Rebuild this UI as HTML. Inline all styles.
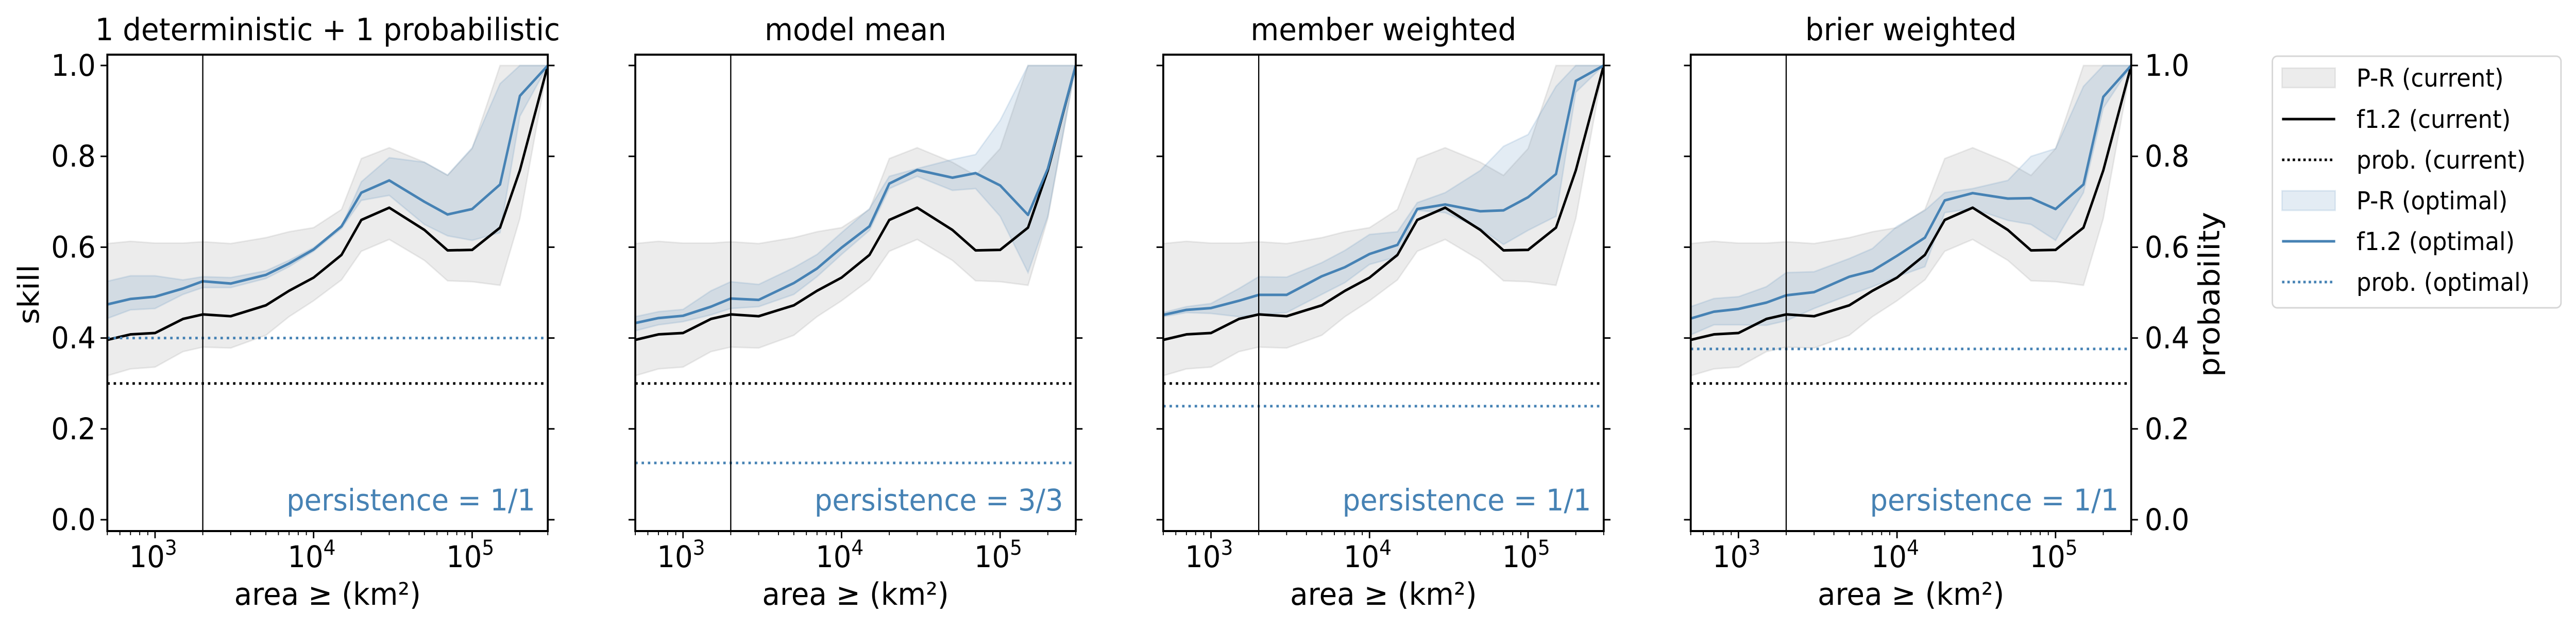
<!DOCTYPE html>
<html><head><meta charset="utf-8"><style>
html,body{margin:0;padding:0;background:#fff;width:100%;height:100%;overflow:hidden;}
svg{display:block;width:100vw;height:100vh;font-family:"DejaVu Sans","Liberation Sans",sans-serif;}
</style></head><body>
<svg id="fig" viewBox="0 0 5328 1218" preserveAspectRatio="none" xmlns="http://www.w3.org/2000/svg"></svg>
<script>
const areas=[500,700,1000,1500,2000,3000,5000,7000,10000,15000,20000,30000,50000,70000,100000,150000,200000,300000];
const f12Current=[0.396,0.408,0.411,0.442,0.452,0.448,0.472,0.504,0.533,0.583,0.660,0.687,0.638,0.593,0.594,0.643,0.769,1.0];
const prCurrentUpper=[0.608,0.613,0.609,0.609,0.612,0.608,0.621,0.634,0.643,0.683,0.795,0.819,0.787,0.758,0.817,1.0,1.0,1.0];
const prCurrentLower=[0.317,0.332,0.336,0.370,0.380,0.378,0.406,0.447,0.482,0.528,0.591,0.617,0.571,0.526,0.524,0.516,0.663,1.0];
const probCurrent=0.30;
const titles=["1 deterministic + 1 probabilistic","model mean","member weighted","brier weighted"];
const persistence=["1/1","3/3","1/1","1/1"];
const probOptimal=[0.40,0.125,0.25,0.376];
const f12Optimal=[
[0.474,0.486,0.491,0.509,0.525,0.520,0.539,0.564,0.595,0.646,0.720,0.747,0.700,0.672,0.684,0.738,0.933,1.0],
[0.433,0.444,0.449,0.469,0.487,0.484,0.521,0.553,0.599,0.646,0.740,0.770,0.753,0.763,0.736,0.671,0.773,1.0],
[0.451,0.462,0.466,0.482,0.495,0.495,0.536,0.556,0.585,0.605,0.684,0.694,0.679,0.681,0.710,0.761,0.966,1.0],
[0.443,0.458,0.464,0.478,0.494,0.501,0.535,0.548,0.581,0.621,0.703,0.719,0.707,0.708,0.684,0.738,0.931,1.0]];
const prOptimalUpper=[
[0.525,0.537,0.537,0.528,0.535,0.533,0.548,0.571,0.599,0.646,0.744,0.797,0.787,0.759,0.819,0.960,1.0,1.0],
[0.447,0.458,0.463,0.504,0.524,0.518,0.555,0.584,0.632,0.685,0.756,0.773,0.793,0.804,0.879,1.0,1.0,1.0],
[0.456,0.469,0.476,0.509,0.535,0.534,0.566,0.593,0.628,0.634,0.698,0.720,0.769,0.822,0.848,0.954,1.0,1.0],
[0.469,0.487,0.491,0.513,0.544,0.546,0.575,0.597,0.646,0.681,0.720,0.729,0.747,0.800,0.817,0.954,1.0,1.0]];
const prOptimalLower=[
[0.443,0.462,0.465,0.496,0.511,0.511,0.531,0.557,0.591,0.641,0.703,0.714,0.650,0.625,0.615,0.632,0.888,1.0],
[0.416,0.429,0.436,0.451,0.465,0.469,0.496,0.535,0.584,0.637,0.729,0.756,0.725,0.729,0.668,0.544,0.668,1.0],
[0.447,0.456,0.454,0.447,0.451,0.456,0.496,0.522,0.562,0.579,0.681,0.676,0.641,0.606,0.637,0.668,0.941,1.0],
[0.407,0.429,0.429,0.428,0.438,0.465,0.495,0.513,0.535,0.557,0.676,0.685,0.659,0.650,0.615,0.720,0.906,1.0]];
const yTicks=[0.0,0.2,0.4,0.6,0.8,1.0];
const yTickLabels=["0.0","0.2","0.4","0.6","0.8","1.0"];
const xMajor=[1000,10000,100000];
const xMajorExp=["3","4","5"];
const refArea=2000;

const NS="http://www.w3.org/2000/svg";
const svg=document.getElementById('fig');
function mk(tag,attrs,parent){const e=document.createElementNS(NS,tag);for(const k in attrs)e.setAttribute(k,attrs[k]);(parent||svg).appendChild(e);return e;}
const panelLeft=[222,1314,2406,3497], PW=911, TOP=106, BOT=1030;
const XMIN=500, XMAX=300000;
const yTop=127, yBot=1008;
function ys(v){return yBot-v*(yBot-yTop);}
const BLUE="#4682b4";

for(let p=0;p<4;p++){
  const L=panelLeft[p];
  const xs=a=>L+(Math.log10(a)-Math.log10(XMIN))/(Math.log10(XMAX)-Math.log10(XMIN))*PW;
  const g=mk('g',{});
  
  
  const clipId='clip'+p;
  const cp=mk('clipPath',{id:clipId},g);mk('rect',{x:L,y:TOP,width:PW,height:BOT-TOP},cp);
  const inner=mk('g',{'clip-path':'url(#'+clipId+')'},g);
  function band(up,lo,fill,name){
    let d='M'+areas.map((a,i)=>xs(a)+','+ys(up[i])).join('L');
    for(let i=areas.length-1;i>=0;i--)d+='L'+xs(areas[i])+','+ys(lo[i]);
    const e=mk('path',{d:d+'Z',fill:fill,stroke:fill,'stroke-width':3},inner);
    
    
  }
  band(prCurrentUpper,prCurrentLower,'rgba(128,128,128,0.15)','pr-band-current');
  band(prOptimalUpper[p],prOptimalLower[p],'rgba(70,130,180,0.15)','pr-band-optimal');
  function line(vals,col,name){
    const e=mk('polyline',{points:areas.map((a,i)=>xs(a)+','+ys(vals[i])).join(' '),fill:'none',stroke:col,'stroke-width':5,'stroke-linejoin':'round'},inner);
    
    
  }
  line(f12Current,'#000','f12-line-current');
  line(f12Optimal[p],BLUE,'f12-line-optimal');
  const hc=mk('line',{x1:L,x2:L+PW,y1:ys(probCurrent),y2:ys(probCurrent),stroke:'#000','stroke-width':5,'stroke-dasharray':'5 8'},inner);
  
  
  const ho=mk('line',{x1:L,x2:L+PW,y1:ys(probOptimal[p]),y2:ys(probOptimal[p]),stroke:BLUE,'stroke-width':5,'stroke-dasharray':'5 8'},inner);
  
  
  const vl=mk('line',{x1:xs(refArea),x2:xs(refArea),y1:TOP,y2:BOT,stroke:'#000','stroke-width':2.5},inner);
  
  
  mk('rect',{x:L,y:TOP,width:PW,height:BOT-TOP,fill:'none',stroke:'#000','stroke-width':4},g);
  yTicks.forEach((v,i)=>{
    mk('line',{x1:L-14,x2:L,y1:ys(v),y2:ys(v),stroke:'#000','stroke-width':3},g);
    mk('line',{x1:L+PW,x2:L+PW+14,y1:ys(v),y2:ys(v),stroke:'#000','stroke-width':3},g);
    if(p===0){const t=mk('text',{x:L-24,y:ys(v)+20,'font-size':58,'text-anchor':'end'},g);t.textContent=yTickLabels[i];
      }
    if(p===3){const t=mk('text',{x:L+PW+28,y:ys(v)+20,'font-size':58,'text-anchor':'start'},g);t.textContent=yTickLabels[i];
      }
  });
  for(let dec=100;dec<=100000;dec*=10){for(let m=1;m<10;m++){const a=dec*m;if(a<XMIN||a>XMAX)continue;
    const maj=(m===1);mk('line',{x1:xs(a),x2:xs(a),y1:BOT,y2:BOT+(maj?14:8),stroke:'#000','stroke-width':maj?3:2},g);}}
  xMajor.forEach((a,i)=>{
    const t=mk('text',{x:xs(a)-4,y:1100,'font-size':58,'text-anchor':'middle'},g);
    t.textContent='10';
    
    const s=mk('tspan',{dy:-24,'font-size':40},t);s.textContent=xMajorExp[i];
  });
  const xl=mk('text',{x:L+PW/2,y:1173,'font-size':60,'text-anchor':'middle'},g);xl.textContent='area ≥ (km²)';
  
  const tt=mk('text',{x:L+PW/2,y:78,'font-size':60,'text-anchor':'middle'},g);tt.textContent=titles[p];
  
  const ps=mk('text',{x:L+PW-26,y:990,'font-size':58,'text-anchor':'end',fill:BLUE},g);ps.textContent='persistence = '+persistence[p];
  
}
const yl=mk('text',{x:0,y:0,'font-size':60,'text-anchor':'middle',transform:'translate(80,571) rotate(-90)'});yl.textContent='skill';

const y2=mk('text',{x:0,y:0,'font-size':60,'text-anchor':'middle',transform:'translate(4590,571) rotate(-90)'});y2.textContent='probability';

const lg=mk('g',{});


mk('rect',{x:4700,y:109,width:597,height:488,rx:10,fill:'#fff',stroke:'#d6d6d6','stroke-width':3},lg);
const legLabels=["P-R (current)","f1.2 (current)","prob. (current)","P-R (optimal)","f1.2 (optimal)","prob. (optimal)"];
const rows=[151,231,310,389,468,547];
legLabels.forEach((lab,i)=>{
  const y=rows[i];
  const ent=mk('g',{},lg);
  
  
  if(i===0||i===3){mk('rect',{x:4720,y:y-19,width:110,height:38,fill:i===0?'rgba(128,128,128,0.15)':'rgba(70,130,180,0.15)',stroke:i===0?'rgba(128,128,128,0.15)':'rgba(70,130,180,0.15)','stroke-width':3},ent);}
  else{const col=i<3?'#000':BLUE;mk('line',{x1:4720,x2:4830,y1:y,y2:y,stroke:col,'stroke-width':5,'stroke-dasharray':(i===2||i===5)?'5 6':'none'},ent);}
  const t=mk('text',{x:4874,y:y+17,'font-size':48},ent);t.textContent=lab;
});
</script>
</body></html>
